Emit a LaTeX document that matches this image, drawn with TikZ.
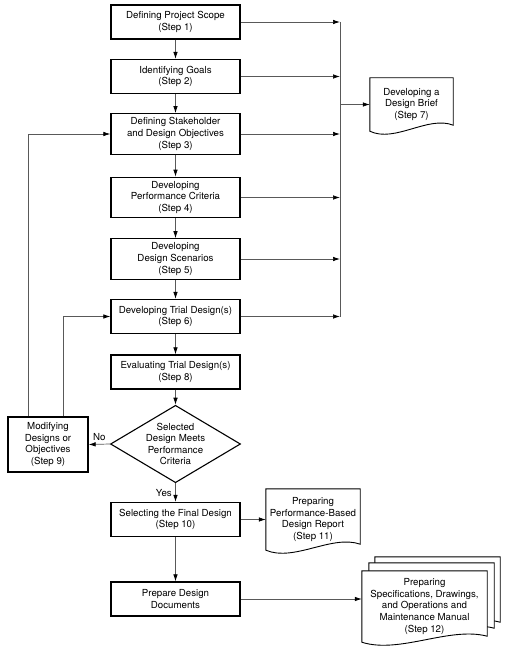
\documentclass[tikz,border=0pt]{standalone}
\usepackage{fontspec}
\setmainfont{TeX Gyre Heros}
\usetikzlibrary{shapes.geometric,calc,arrows.meta}

\tikzset{
  stepbox/.style={draw, line width=1.3pt, minimum width=129, minimum height=34,
    inner sep=4pt, align=center, font=\fontsize{9.7}{11.6}\selectfont},
  decision/.style={diamond, draw, line width=1.1pt, minimum width=130, minimum height=72,
    inner sep=-6pt, align=center, font=\fontsize{9.7}{11.6}\selectfont},
  docnode/.style={minimum width=#1, inner sep=2pt, align=center,
    font=\fontsize{9.7}{11.6}\selectfont},
  doctext/.style={align=center, font=\fontsize{9.7}{11.6}\selectfont},
  docline/.style={draw, line width=0.9pt, fill=white},
  flow/.style={draw=black!65, line width=0.7pt},
  tip/.style={-{Latex[length=7pt, width=4.5pt, color=black]}},
}

% outline of a document with a wavy bottom edge round node #1
\newcommand{\docpage}[1]{%
  \path[docline] (#1.south west) -- (#1.north west) -- (#1.north east)
    -- ($(#1.south east)+(0,-6)$)
    .. controls ($(#1.south west)!0.7!(#1.south east)+(0,-16)$)
       and ($(#1.south west)!0.3!(#1.south east)+(0,12)$) .. (#1.south west) -- cycle;}

\begin{document}
\begin{tikzpicture}[x=1pt, y=-1pt]
	\useasboundingbox (0,0) rectangle (511,655);
	% main column
	\node[stepbox] (s1) at (175.5,22) {Defining Project Scope\\(Step 1)};
	\node[stepbox] (s2) at (175.5,76.5) {Identifying Goals\\(Step 2)};
	\node[stepbox] (s3) at (175.5,134) {Defining Stakeholder\\and Design Objectives\\(Step 3)};
	\node[stepbox] (s4) at (175.5,197.5) {Developing\\Performance Criteria\\(Step 4)};
	\node[stepbox] (s5) at (175.5,259) {Developing\\Design Scenarios\\(Step 5)};
	\node[stepbox] (s6) at (175.5,316.5) {Developing Trial Design(s)\\(Step 6)};
	\node[stepbox] (s8) at (175.5,372) {Evaluating Trial Design(s)\\(Step 8)};
	\node[decision] (meets) at (175.5,444) {Selected\\Design Meets\\Performance\\Criteria};
	\node[stepbox] (s10) at (175.5,519.5) {Selecting the Final Design\\(Step 10)};
	\node[stepbox] (docs) at (175.5,599) {Prepare Design\\Documents};
	\node[stepbox, minimum width=80, minimum height=55] (s9) at (48,444.5) {Modifying\\Designs or\\Objectives\\(Step 9)};

	% documents
	\node[docnode=83, minimum height=53] (s7) at (411.5,104.5) {};
	\docpage{s7}
	\node[doctext] at (s7) {Developing a\\Design Brief\\(Step 7)};
	\node[docnode=94, minimum height=61] (s11) at (313,519.5) {};
	\docpage{s11}
	\node[doctext] at (s11) {Preparing\\Performance-Based\\Design Report\\(Step 11)};
	\node[docnode=125, minimum height=71] (s12) at (424.5,606.5) {};
	\begin{scope}[transform canvas={shift={(13pt,14pt)}}]
		\docpage{s12}
	\end{scope}
	\begin{scope}[transform canvas={shift={(7pt,8pt)}}]
		\docpage{s12}
	\end{scope}
	\docpage{s12}
	\node[doctext] at (s12) {Preparing\\Specifications, Drawings,\\and Operations and\\Maintenance Manual\\(Step 12)};

	% main flow
	\draw[flow,tip] (s1) -- (s2);
	\draw[flow,tip] (s2) -- (s3);
	\draw[flow,tip] (s3) -- (s4);
	\draw[flow,tip] (s4) -- (s5);
	\draw[flow,tip] (s5) -- (s6);
	\draw[flow,tip] (s6) -- (s8);
	\draw[flow,tip] (s8) -- (meets);
	\draw[flow,tip] (meets) -- (s10) node[midway, left, font=\fontsize{9.7}{11}\selectfont] {Yes};
	\draw[flow,tip] (s10) -- (docs);
	\draw[flow,tip] (meets.west) -- (s9.east) node[midway, above, font=\fontsize{9.7}{11}\selectfont] {No};

	% feedback loops
	\draw[flow,tip] ($(s9.north west)!0.26!(s9.north east)$) |- (s3.west);
	\draw[flow,tip] ($(s9.north west)!0.69!(s9.north east)$) |- (s6.west);

	% collecting line to the design brief
	\coordinate (bus) at (340,0);
	\foreach \s in {s1,s2,s3,s4,s5,s6}
		\draw[flow,tip] (\s.east) -- (\s.east -| bus);
	\draw[flow] (s1.east -| bus) -- (s6.east -| bus);
	\draw[flow,tip] (s7.west -| bus) -- (s7.west);

	% reports
	\draw[flow,tip] (s10.east) -- (s11.west);
	\draw[flow,tip] (docs.east) -- (docs.east -| s12.west);
\end{tikzpicture}
\end{document}
